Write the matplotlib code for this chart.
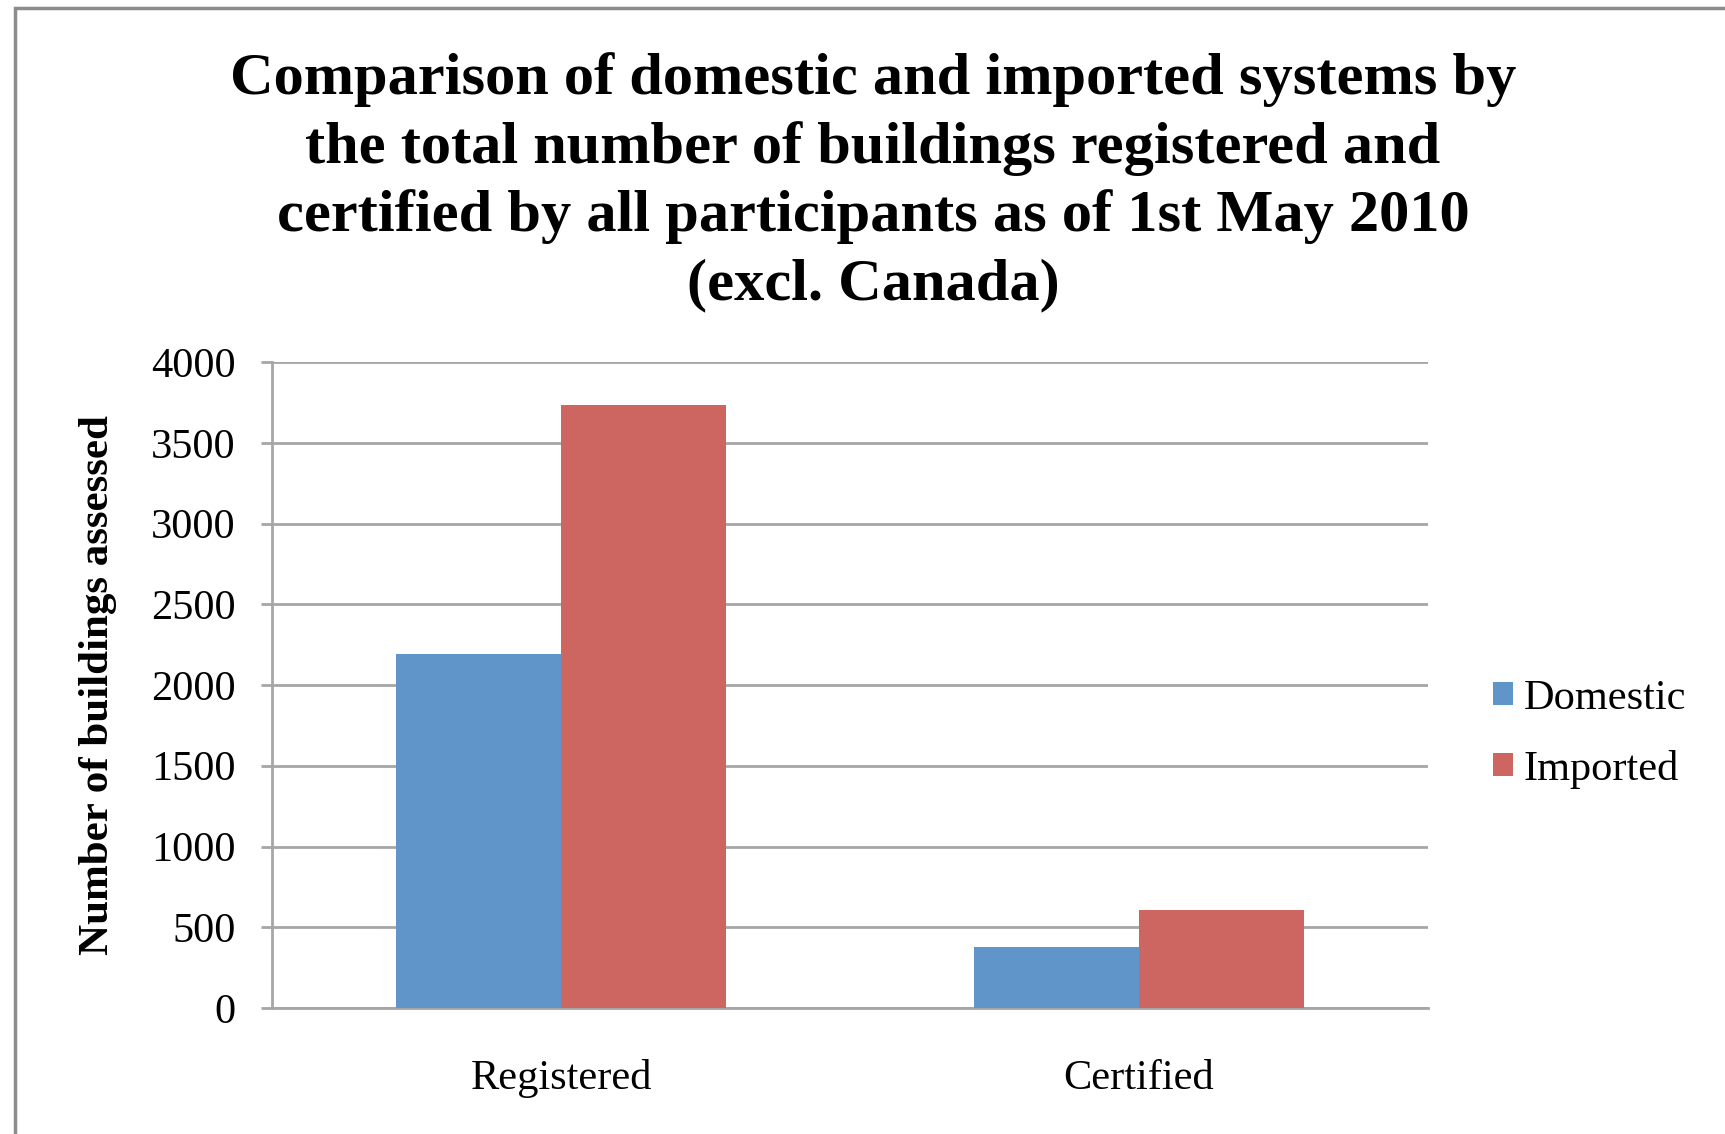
import matplotlib.pyplot as plt
import numpy as np
from matplotlib.patches import Rectangle

categories = ['Registered', 'Certified']
domestic = [2195, 375]
imported = [3735, 605]
yticks = [0, 500, 1000, 1500, 2000, 2500, 3000, 3500, 4000]

plt.rcParams['font.family'] = ['Liberation Serif', 'DejaVu Serif']

W, H = 1725, 1134
fig = plt.figure(figsize=(W / 100, H / 100), dpi=100)
fig.patch.set_facecolor('white')

# outer chart frame (left and top edges visible)
fig.patches.append(Rectangle((15 / W, -0.05), 1.1, 1 - 8 / H + 0.05, transform=fig.transFigure,
                             fill=False, edgecolor='#8c8c8c', linewidth=2.5))

ax = fig.add_axes([272 / W, 1 - 1008 / H, (1428 - 272) / W, (1008 - 362) / H])

x = np.arange(len(categories))
bw = 0.285
ax.bar(x - bw / 2, domestic, bw, color='#5f95c8', label='Domestic', zorder=3)
ax.bar(x + bw / 2, imported, bw, color='#cd6660', label='Imported', zorder=3)

ax.set_xlim(-0.5, 1.5)
ax.set_ylim(0, 4000)
ax.set_yticks(yticks)
ax.yaxis.grid(True, color='#a6a6a6', linewidth=2, zorder=0)
ax.set_axisbelow(True)
for s in ['top', 'right']:
    ax.spines[s].set_visible(False)
for s in ['left', 'bottom']:
    ax.spines[s].set_color('#a6a6a6')
    ax.spines[s].set_linewidth(2)
ax.tick_params(axis='y', length=8, width=2, color='#a6a6a6', labelsize=30.5, pad=18)
ax.tick_params(axis='x', length=0, labelsize=30.5, pad=37)
ax.set_xticks(x)
ax.set_xticklabels(categories)

ax.set_ylabel('Number of buildings assessed', fontsize=31, fontweight='bold')
ax.yaxis.set_label_coords(-0.1345, 0.5)

fig.text(873 / W, 1 - 182 / H,
         'Comparison of domestic and imported systems by\n'
         'the total number of buildings registered and\n'
         'certified by all participants as of 1st May 2010\n'
         '(excl. Canada)',
         ha='center', va='center', fontsize=43.5, fontweight='bold', linespacing=1.33)

leg = fig.legend(loc='center left', bbox_to_anchor=(1455 / W, 1 - 734 / H), frameon=False,
                 fontsize=30.5, handlelength=0.47, handleheight=0.47, handletextpad=0.25,
                 labelspacing=0.75)

fig.savefig('out.png', dpi=100)
